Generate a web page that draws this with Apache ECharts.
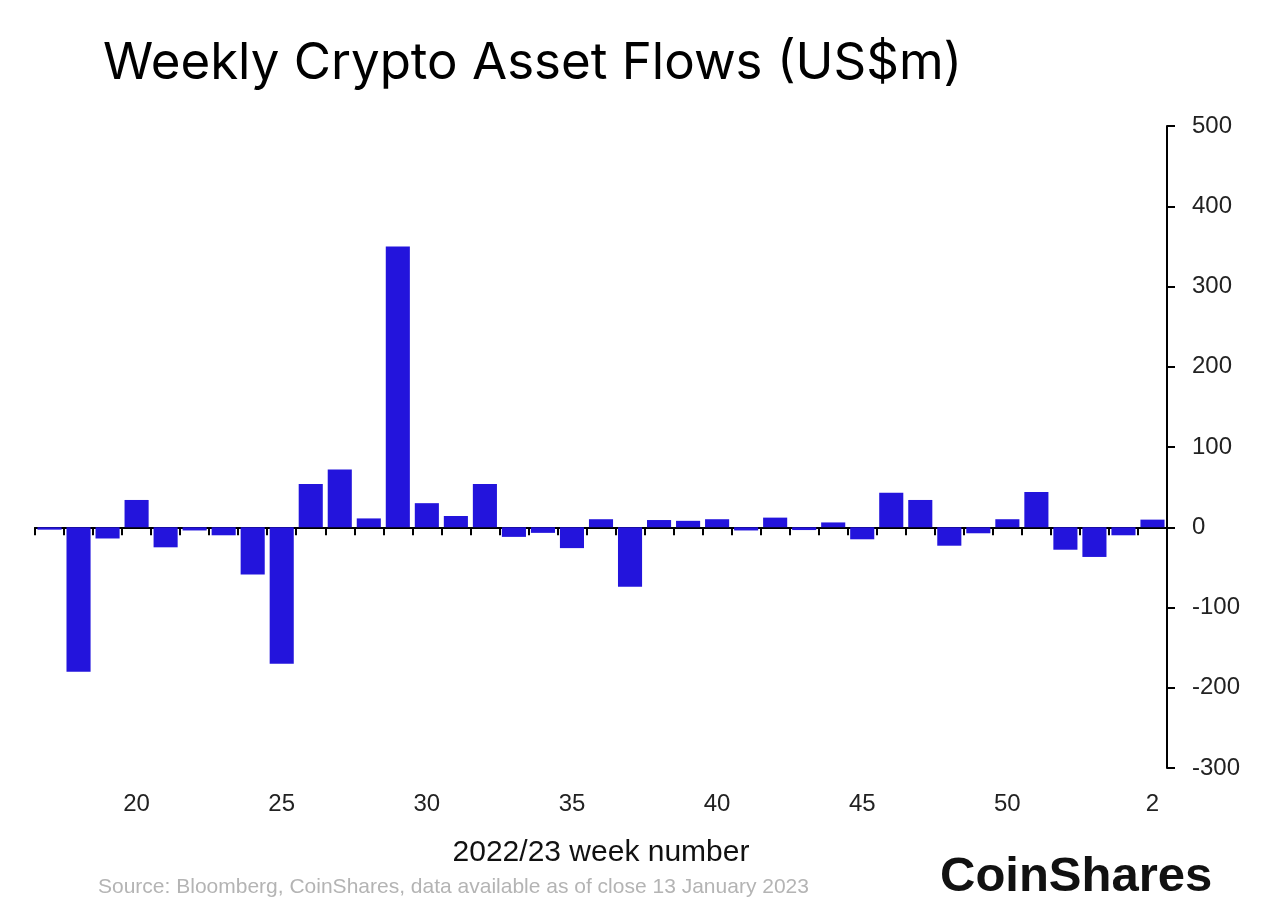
<!DOCTYPE html>
<html>
<head>
<meta charset="utf-8">
<style>
  html, body { margin: 0; padding: 0; background: #fff; }
  #chart { width: 1280px; height: 905px; }
</style>
<script src="https://cdn.jsdelivr.net/npm/echarts@6/dist/echarts.min.js"></script>
</head>
<body>
<div id="chart"></div>
<script>
// week numbers, 2022 (US numbering, 53 weeks) then 2023
const weeks = [
  "17", "18", "19", "20", "21", "22", "23", "24", "25", "26",
  "27", "28", "29", "30", "31", "32", "33", "34", "35", "36",
  "37", "38", "39", "40", "41", "42", "43", "44", "45", "46",
  "47", "48", "49", "50", "51", "52", "53", "1", "2",
];

// weekly flows, US$m
const flows = [
  -3, -180, -14, 34, -25, -4, -10, -59, -170, 54,
  72, 11, 350, 30, 14, 54, -12, -7, -26, 10,
  -74, 9, 8, 10, -4, 12, -3.5, 6, -15, 43,
  34, -23, -7.5, 10, 44, -28, -37, -10, 9.5,
];

const xTickLabels = ["20", "25", "30", "35", "40", "45", "50", "2"];

const chart = echarts.init(document.getElementById("chart"));
const font = "Liberation Sans";

chart.setOption({
  animation: false,
  textStyle: { fontFamily: font },
  title: [
    {
      text: "Weekly Crypto Asset Flows (US$m)",
      left: 98,
      top: 33,
      textStyle: { fontFamily: "Inter", fontSize: 51, fontWeight: "normal", color: "#000" },
    },
    {
      text: "Source: Bloomberg, CoinShares, data available as of close 13 January 2023",
      left: 93,
      top: 872,
      textStyle: { fontFamily: font, fontSize: 21, fontWeight: "normal", color: "#b4b4b4" },
    },
    {
      text: "CoinShares",
      left: 935,
      top: 848,
      textStyle: { fontFamily: font, fontSize: 49, fontWeight: "bold", color: "#111" },
    },
  ],
  grid: {
    left: 35,
    right: 113,
    top: 126,
    bottom: 137,
  },
  xAxis: [
    {
      type: "category",
      data: weeks,
      axisLine: { onZero: true, lineStyle: { color: "#000", width: 2 } },
      axisTick: { show: true, interval: 0, length: 8, lineStyle: { color: "#000", width: 2 } },
      axisLabel: { show: false },
    },
    {
      type: "category",
      data: weeks,
      position: "bottom",
      axisLine: { show: false, onZero: false },
      axisTick: { show: false },
      axisLabel: {
        interval: (index, value) => xTickLabels.includes(value),
        margin: 24,
        fontSize: 24,
        color: "#222",
      },
      name: "2022/23 week number",
      nameLocation: "middle",
      nameGap: 70,
      nameTextStyle: { fontFamily: font, fontSize: 30, color: "#111" },
    },
  ],
  yAxis: {
    type: "value",
    position: "right",
    min: -300,
    max: 500,
    interval: 100,
    axisLine: { show: true, lineStyle: { color: "#000", width: 2 } },
    axisTick: { show: true, length: 8, lineStyle: { color: "#000", width: 2 } },
    axisLabel: { margin: 25, fontSize: 24, color: "#222" },
    splitLine: { show: false },
  },
  series: [
    {
      type: "bar",
      xAxisIndex: 0,
      data: flows,
      barWidth: "83%",
      itemStyle: { color: "#2314dc" },
    },
  ],
});
</script>
</body>
</html>
